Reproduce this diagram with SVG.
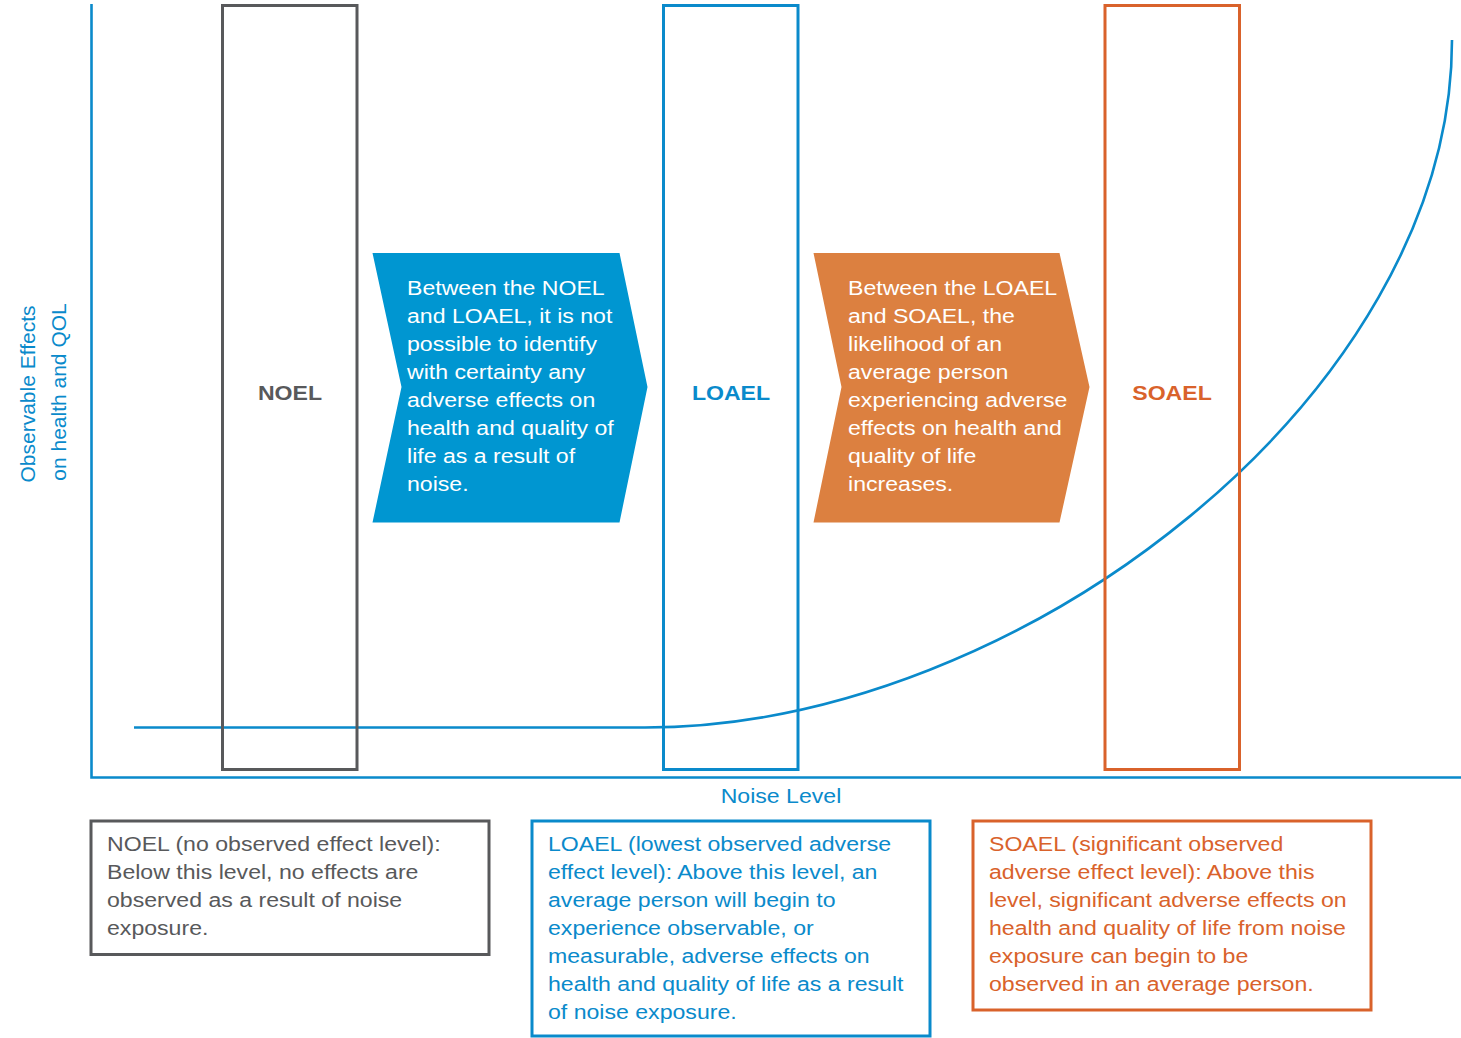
<svg xmlns="http://www.w3.org/2000/svg" width="1461" height="1038" viewBox="0 0 1461 1038">
<style>
text{font-family:"Liberation Sans",Arial,sans-serif;font-size:21px}
.gray{fill:#58595b}.blue{fill:#0a8acb}.orange{fill:#d9622b}.white{fill:#ffffff}
.lbl{font-weight:bold;text-anchor:middle}
.rg{fill:none;stroke:#58595b;stroke-width:3}
.rb{fill:none;stroke:#0a8acb;stroke-width:3}
.ro{fill:none;stroke:#d9622b;stroke-width:3}
.ax{fill:none;stroke:#0a8acb;stroke-width:2.6}
</style>
<rect width="1461" height="1038" fill="#ffffff"/>
<g id="axes">
<path class="ax" d="M91.5,4 V777.5 H1461"/>
<text class="blue" text-anchor="middle" transform="translate(35,394) rotate(-90)">Observable Effects</text>
<text class="blue" text-anchor="middle" transform="translate(66,392) rotate(-90)">on health and QOL</text>
<text class="blue" text-anchor="middle" transform="translate(781,803) scale(1.1,1)">Noise Level</text>
</g>
<g id="connectors">
<path class="ax" d="M134,727.5 H645 C1020,727.5 1452,395 1452,40"/>
</g>
<g id="noel">
<rect class="rg" x="222.5" y="5.5" width="134.5" height="764"/>
<text class="gray lbl" transform="translate(290,400) scale(1.1,1)">NOEL</text>
</g>
<g id="loael">
<rect class="rb" x="663.5" y="5.5" width="134.5" height="764"/>
<text class="blue lbl" transform="translate(731,400) scale(1.1,1)">LOAEL</text>
</g>
<g id="soael">
<rect class="ro" x="1105" y="5.5" width="134.5" height="764"/>
<text class="orange lbl" transform="translate(1172,400) scale(1.1,1)">SOAEL</text>
</g>
<g id="arrow-noel-loael">
<polygon points="372.5,253 619.5,253 647.5,387 619.5,522.5 372.5,522.5 401.5,387" fill="#0096d1"/>
<text class="white" transform="translate(407,295) scale(1.1,1)"><tspan x="0" y="0">Between the NOEL</tspan><tspan x="0" y="28">and LOAEL, it is not</tspan><tspan x="0" y="56">possible to identify</tspan><tspan x="0" y="84">with certainty any</tspan><tspan x="0" y="112">adverse effects on</tspan><tspan x="0" y="140">health and quality of</tspan><tspan x="0" y="168">life as a result of</tspan><tspan x="0" y="196">noise.</tspan></text>
</g>
<g id="arrow-loael-soael">
<polygon points="813.5,253 1059.5,253 1089.5,387 1059.5,522.5 813.5,522.5 841.5,387" fill="#dc8040"/>
<text class="white" transform="translate(848,295) scale(1.1,1)"><tspan x="0" y="0">Between the LOAEL</tspan><tspan x="0" y="28">and SOAEL, the</tspan><tspan x="0" y="56">likelihood of an</tspan><tspan x="0" y="84">average person</tspan><tspan x="0" y="112">experiencing adverse</tspan><tspan x="0" y="140">effects on health and</tspan><tspan x="0" y="168">quality of life</tspan><tspan x="0" y="196">increases.</tspan></text>
</g>
<g id="def-noel">
<rect class="rg" x="91" y="821" width="398" height="133.5"/>
<text class="gray" transform="translate(107,851) scale(1.1,1)"><tspan x="0" y="0">NOEL (no observed effect level):</tspan><tspan x="0" y="28">Below this level, no effects are</tspan><tspan x="0" y="56">observed as a result of noise</tspan><tspan x="0" y="84">exposure.</tspan></text>
</g>
<g id="def-loael">
<rect class="rb" x="532" y="821" width="398" height="215"/>
<text class="blue" transform="translate(548,851) scale(1.1,1)"><tspan x="0" y="0">LOAEL (lowest observed adverse</tspan><tspan x="0" y="28">effect level): Above this level, an</tspan><tspan x="0" y="56">average person will begin to</tspan><tspan x="0" y="84">experience observable, or</tspan><tspan x="0" y="112">measurable, adverse effects on</tspan><tspan x="0" y="140">health and quality of life as a result</tspan><tspan x="0" y="168">of noise exposure.</tspan></text>
</g>
<g id="def-soael">
<rect class="ro" x="973" y="821" width="398" height="189"/>
<text class="orange" transform="translate(989,851) scale(1.1,1)"><tspan x="0" y="0">SOAEL (significant observed</tspan><tspan x="0" y="28">adverse effect level): Above this</tspan><tspan x="0" y="56">level, significant adverse effects on</tspan><tspan x="0" y="84">health and quality of life from noise</tspan><tspan x="0" y="112">exposure can begin to be</tspan><tspan x="0" y="140">observed in an average person.</tspan></text>
</g>
</svg>
